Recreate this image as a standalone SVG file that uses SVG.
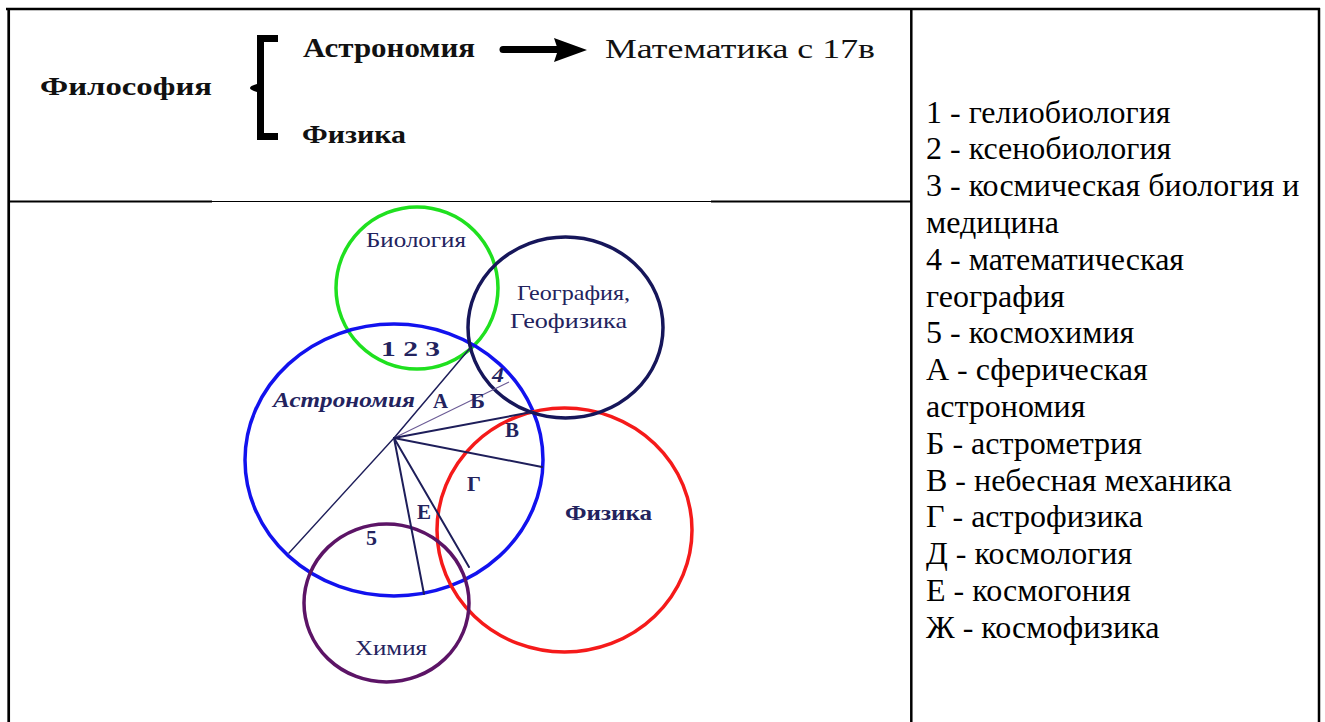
<svg xmlns="http://www.w3.org/2000/svg" width="1325" height="722" viewBox="0 0 1325 722">
<style>
.t{font-family:"Liberation Serif","Times New Roman",serif;}
.top{font-family:"Liberation Serif","Times New Roman",serif;fill:#111;}
.leg{font-family:"Liberation Serif","Times New Roman",serif;font-size:32px;fill:#000;}
.lbl{font-family:"Liberation Serif","Times New Roman",serif;font-size:21px;fill:#23235e;}
.b{font-weight:bold;}
.ring{fill:none;stroke-width:3.5;}
.con{stroke:#1e1e5a;stroke-linecap:round;}
.frame{stroke:#000;fill:none;}
</style>
<rect width="1325" height="722" fill="#fff"/>
<g id="table">
<line class="frame" x1="6" y1="9" x2="1320" y2="9" stroke-width="2.5"/>
<line class="frame" x1="8.7" y1="8" x2="8.7" y2="722" stroke-width="2.7"/>
<line class="frame" x1="911.3" y1="8" x2="911.3" y2="722" stroke-width="2.5"/>
<line class="frame" x1="1319" y1="8" x2="1319" y2="722" stroke-width="2.5"/>
<line class="frame" x1="8" y1="201.5" x2="212" y2="201.5" stroke-width="2.2"/>
<line class="frame" x1="212" y1="201.5" x2="711" y2="201.5" stroke-width="1"/>
<line class="frame" x1="711" y1="201.5" x2="912" y2="201.5" stroke-width="2.2"/>
</g>
<g id="header">
<text id="philosophy" class="top b" x="40" y="95" font-size="26" textLength="172" lengthAdjust="spacingAndGlyphs">Философия</text>
<path id="bracket" d="M278 35 H257 V84 Q250 86 250 88 Q250 90 257 92 V140 H278 V133 H264 V42 H278 Z" fill="#000"/>
<text id="astro-top" class="top b" x="303" y="57" font-size="27" textLength="172" lengthAdjust="spacingAndGlyphs">Астрономия</text>
<g id="arrow">
<line x1="503" y1="49.5" x2="558" y2="49.5" stroke="#000" stroke-width="7" stroke-linecap="round"/>
<polygon points="554,38 587,50 554,62 558,50" fill="#000"/>
</g>
<text id="math" class="top" x="605" y="58" font-size="28" textLength="270" lengthAdjust="spacingAndGlyphs">Математика с 17в</text>
<text id="physics-top" class="top b" x="302" y="143" font-size="26" textLength="104" lengthAdjust="spacingAndGlyphs">Физика</text>
</g>
<g id="circles">
<g id="biology"><circle class="ring" cx="417" cy="288" r="81" stroke="#1fe01f"/></g>
<g id="astronomy"><ellipse class="ring" cx="394" cy="460" rx="149" ry="136" stroke="#1212ee"/></g>
<g id="physics"><ellipse class="ring" cx="564.5" cy="530" rx="127.5" ry="122" stroke="#f51a1a"/></g>
<g id="chemistry"><ellipse class="ring" cx="386.5" cy="603" rx="82.5" ry="79" stroke="#5c1466"/></g>
<g id="geography"><ellipse class="ring" cx="565.5" cy="327.5" rx="97.5" ry="90.5" stroke="#16165a"/></g>
</g>
<g id="connectors">
<line class="con" x1="394" y1="438" x2="471" y2="347" stroke-width="1.5"/>
<line x1="394" y1="438" x2="509" y2="382" stroke="#6b5b95" stroke-width="1.1"/>
<line class="con" x1="394" y1="438" x2="532" y2="412" stroke-width="2"/>
<line class="con" x1="394" y1="438" x2="542" y2="467" stroke-width="2"/>
<line class="con" x1="394" y1="438" x2="289" y2="553" stroke-width="1.4"/>
<line class="con" x1="394" y1="438" x2="424" y2="594" stroke-width="2"/>
<line class="con" x1="394" y1="438" x2="469" y2="567" stroke-width="2"/>
</g>
<g id="labels">
<text class="lbl" x="366" y="246.5" textLength="100" lengthAdjust="spacingAndGlyphs">Биология</text>
<text class="lbl" x="517" y="300" textLength="113" lengthAdjust="spacingAndGlyphs">География,</text>
<text class="lbl" x="510" y="327.5" textLength="117" lengthAdjust="spacingAndGlyphs">Геофизика</text>
<text class="lbl b" x="381" y="356" textLength="59" lengthAdjust="spacingAndGlyphs">1 2 3</text>
<text class="lbl b" x="492" y="382" font-style="italic" textLength="12" lengthAdjust="spacingAndGlyphs">4</text>
<text class="lbl b" x="273" y="407" font-style="italic" textLength="142" lengthAdjust="spacingAndGlyphs">Астрономия</text>
<text class="lbl b" x="433" y="408" textLength="15" lengthAdjust="spacingAndGlyphs">А</text>
<text class="lbl b" x="470" y="408" textLength="15" lengthAdjust="spacingAndGlyphs">Б</text>
<text class="lbl b" x="505" y="437" textLength="14" lengthAdjust="spacingAndGlyphs">В</text>
<text class="lbl b" x="467" y="491" textLength="14" lengthAdjust="spacingAndGlyphs">Г</text>
<text class="lbl b" x="417" y="519" textLength="14" lengthAdjust="spacingAndGlyphs">Е</text>
<text class="lbl b" x="366" y="545" textLength="11" lengthAdjust="spacingAndGlyphs">5</text>
<text class="lbl b" x="565" y="520" textLength="87" lengthAdjust="spacingAndGlyphs">Физика</text>
<text class="lbl" x="355" y="655" textLength="72" lengthAdjust="spacingAndGlyphs">Химия</text>
</g>
<g id="legend" class="leg">
<text x="926" y="122.5">1 - гелиобиология</text>
<text x="926" y="159.3">2 - ксенобиология</text>
<text x="926" y="196.1">3 - космическая биология и</text>
<text x="926" y="232.9">медицина</text>
<text x="926" y="269.7">4 - математическая</text>
<text x="926" y="306.5">география</text>
<text x="926" y="343.3">5 - космохимия</text>
<text x="926" y="380.1">А - сферическая</text>
<text x="926" y="416.9">астрономия</text>
<text x="926" y="453.7">Б - астрометрия</text>
<text x="926" y="490.5">В - небесная механика</text>
<text x="926" y="527.3">Г - астрофизика</text>
<text x="926" y="564.1">Д - космология</text>
<text x="926" y="600.9">Е - космогония</text>
<text x="926" y="637.7">Ж - космофизика</text>
</g>
</svg>
